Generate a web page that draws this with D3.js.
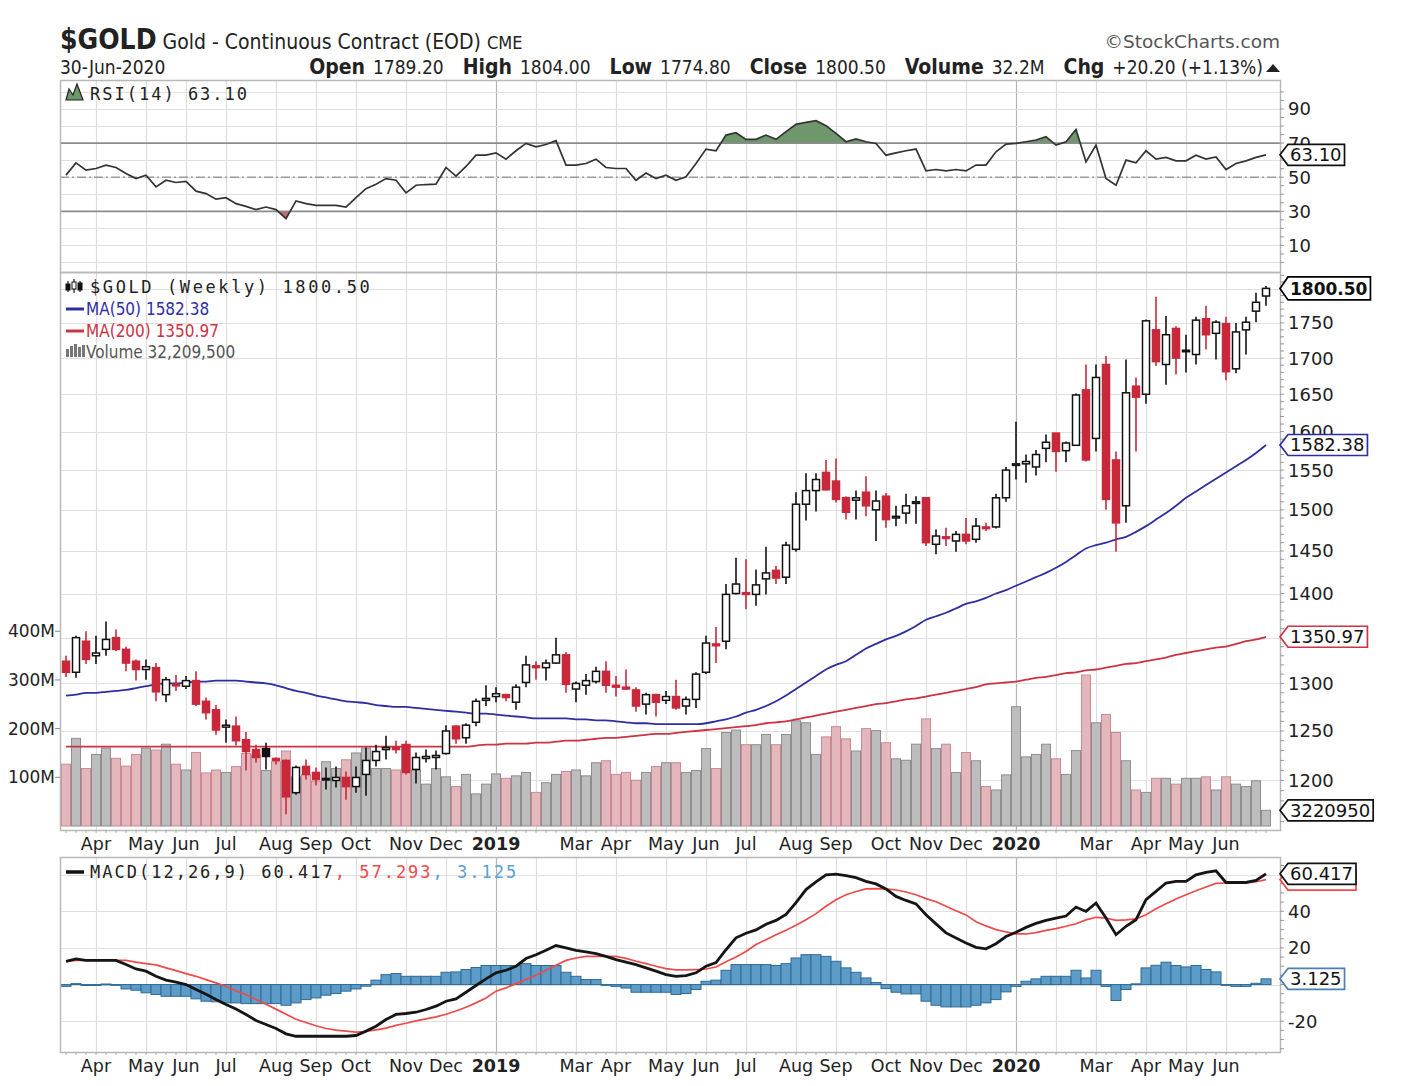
<!DOCTYPE html>
<html><head><meta charset="utf-8">
<script src="https://d3js.org/d3.v7.min.js"></script>
<style>
body{margin:0;background:#fff}
svg{display:block}
text{font-family:'DejaVu Sans',Verdana,sans-serif}
.nar{font-family:'Liberation Sans Narrow','Arial Narrow','DejaVu Sans Condensed',sans-serif}
.mono{font-family:'DejaVu Sans Mono',monospace;letter-spacing:2px}
.cond{font-family:'DejaVu Sans Condensed','DejaVu Sans',sans-serif}
</style></head><body>
<svg id="chart" width="1424" height="1086" xmlns="http://www.w3.org/2000/svg"></svg>
<script>
// ---------------- DATA (weekly, first week starting 2018-03-12) ----------------
const firstWeek = "2018-03-12";
const priorClose = 1330;
const open = [1324,1312,1346,1330,1337,1350,1337,1324,1315,1317, 1288,1299,1297,1303,1281,1272,1254,1255,1241,1231,
  1232,1222,1220,1188,1214,1208,1201,1200,1203,1194, 1206,1220,1231,1233,1236,1211,1222,1223,1227,1255,
  1243,1259,1282,1286,1288,1280,1301,1319,1317,1322, 1331,1294,1298,1302,1313,1298,1296,1293,1278,1288,
  1282,1286,1276,1283,1312,1343,1346,1400,1401,1399, 1417,1427,1419,1452,1507,1524,1547,1536,1515,1512,
  1522,1500,1517,1490,1496,1508,1515,1458,1467,1462, 1470,1464,1479,1479,1515,1556,1558,1554,1578,1598,
  1575,1582,1656,1591,1691,1563,1505,1661,1650,1740, 1691,1742,1709,1705,1756,1735,1749,1685,1740,1767,
  1789.2];
const high = [1330,1352,1357,1352,1368,1359,1340,1326,1326,1322, 1307,1309,1308,1313,1285,1277,1262,1265,1249,1236,
  1238,1223,1221,1215,1221,1213,1213,1214,1209,1214, 1233,1236,1245,1240,1240,1228,1231,1230,1256,1256,
  1258,1284,1298,1296,1289,1299,1330,1324,1326,1350, 1334,1302,1310,1318,1324,1308,1315,1296,1290,1289,
  1292,1304,1286,1312,1352,1362,1411,1442,1440,1428, 1455,1432,1461,1522,1546,1546,1563,1565,1517,1524,
  1542,1524,1521,1505,1520,1517,1516,1476,1478,1474, 1490,1490,1484,1520,1554,1613,1570,1576,1596,1598,
  1587,1651,1691,1691,1703,1574,1698,1673,1755,1788, 1760,1745,1733,1759,1775,1754,1759,1750,1759,1794,
  1804];
const low = [1307,1306,1321,1321,1330,1335,1313,1303,1304,1281, 1280,1292,1294,1276,1262,1246,1238,1235,1210,1218,
  1211,1216,1167,1186,1201,1195,1191,1193,1181,1188, 1185,1214,1221,1227,1206,1197,1218,1211,1226,1237,
  1237,1255,1276,1280,1281,1272,1296,1304,1303,1321, 1290,1280,1288,1300,1290,1286,1293,1270,1267,1265,
  1278,1272,1267,1274,1310,1322,1337,1399,1382,1386, 1399,1411,1411,1449,1487,1498,1524,1509,1488,1488,
  1492,1462,1478,1480,1483,1483,1456,1446,1456,1449, 1458,1460,1474,1477,1510,1538,1534,1543,1560,1548,
  1560,1581,1561,1574,1500,1449,1484,1574,1637,1689, 1663,1677,1680,1691,1712,1698,1669,1679,1705,1751,
  1774.8];
const close = [1312,1350,1326,1333,1348,1337,1322,1315,1318,1291, 1304,1298,1303,1278,1269,1251,1256,1240,1229,1223,
  1224,1220,1184,1213,1206,1201,1202,1203,1194,1203, 1220,1229,1233,1231,1208,1223,1224,1225,1250,1242,
  1256,1281,1284,1289,1285,1296,1320,1317,1322,1331, 1299,1300,1303,1313,1298,1296,1294,1276,1288,1280,
  1286,1274,1283,1310,1344,1341,1399,1411,1399,1410, 1424,1418,1457,1507,1524,1538,1525,1513,1497,1515,
  1505,1511,1488,1492,1505,1510,1460,1468,1465,1470, 1462,1480,1477,1515,1550,1558,1561,1570,1586,1574,
  1585,1649,1563,1673,1513,1484,1652,1646,1753,1695, 1733,1700,1711,1754,1733,1751,1681,1737,1751,1780,
  1800.5];
// volume in millions
const volume = [127,180,118,147,160,139,123,147,160,156, 168,127,115,151,109,115,110,122,149,146,
  114,132,154,101,105,92,132,118,136,150, 160,118,118,115,168,115,86,118,101,81,
  106,66,86,107,98,103,110,69,89,106, 112,115,103,130,134,106,110,94,110,122,
  130,130,110,114,159,118,192,197,167,167, 188,167,188,216,212,147,183,204,179,154,
  200,196,171,138,135,168,220,159,168,110, 151,134,81,74,105,245,142,147,168,138,
  106,155,310,212,229,192,134,74,69,98, 98,86,98,98,101,74,101,86,81,93,
  32.2];
const ma50 = [1287,1288,1290,1290,1291,1292,1293,1295,1297,1299, 1300,1300,1301,1302,1302,1303,1303,1303,1302,1301,
  1300,1298,1295,1292,1290,1287,1285,1283,1281,1280, 1279,1277,1276,1275,1275,1274,1273,1272,1271,1270,
  1269,1268,1268,1267,1266,1265,1264,1263,1263,1263, 1263,1262,1262,1261,1261,1260,1259,1258,1258,1257,
  1257,1257,1257,1257,1258,1260,1262,1265,1269,1272, 1276,1281,1287,1294,1301,1308,1315,1320,1324,1331,
  1338,1343,1348,1352,1357,1363,1370,1374,1378,1383, 1388,1391,1395,1400,1404,1409,1414,1419,1424,1430,
  1437,1445,1453,1457,1460,1464,1467,1473,1480,1488, 1496,1505,1515,1523,1531,1539,1547,1555,1563,1572,
  1582.38];
const ma200 = [1234,1234,1234,1234,1234,1234,1234,1234,1234,1234, 1234,1234,1234,1234,1234,1234,1234,1234,1234,1234,
  1234,1234,1234,1234,1234,1234,1234,1234,1234,1234, 1234,1234,1234,1234,1234,1234,1234,1234,1234,1234,
  1234,1235,1236,1236,1237,1237,1237,1238,1238,1239, 1240,1240,1241,1242,1243,1243,1244,1245,1246,1247,
  1247,1248,1249,1250,1251,1252,1253,1254,1255,1256, 1258,1259,1260,1262,1264,1266,1268,1270,1272,1274,
  1276,1278,1279,1281,1283,1284,1286,1288,1290,1292, 1294,1296,1299,1300,1301,1302,1304,1306,1307,1309,
  1311,1312,1314,1315,1317,1319,1321,1322,1324,1326, 1328,1331,1333,1335,1337,1339,1340,1343,1346,1348,
  1350.97];
const rsi = [51.2,58.4,54.1,55.1,57.1,55.7,52.2,49.2,51.2,44.3, 48.2,46.9,47.6,41.8,40.4,37.1,38.0,34.5,32.9,31.0,
  32.5,31.0,25.7,36.1,34.5,33.5,33.5,33.5,32.5,38.0, 43.3,45.9,49.2,48.2,40.8,45.3,45.7,45.9,55.7,50.6,
  56.3,62.9,62.9,64.3,60.6,65.5,69.8,67.8,69.2,71.4, 57.1,57.1,58.0,60.6,55.7,55.1,55.1,48.2,52.4,49.2,
  51.2,48.2,50.2,58.0,66.5,65.5,74.7,76.1,72.2,72.2, 74.7,72.2,76.7,81.0,82.2,83.1,80.2,75.7,70.8,72.4,
  70.8,69.8,62.9,64.3,65.5,66.5,53.7,54.5,53.7,54.5, 53.7,57.1,57.1,64.9,69.4,69.8,70.8,71.8,73.8,68.8,
  70.8,78.0,59.0,68.8,49.2,45.3,60.0,58.4,65.5,60.6, 61.6,59.6,59.6,62.9,60.6,61.9,54.5,58.0,59.6,61.6,
  63.10];
const macd = [12.7,14.0,13.2,13.2,13.2,13.2,10.9,8.5,7.3,4.5, 2.4,1.3,0,-2.7,-5.3,-8.2,-10.9,-13.3,-16.3,-19.6,
  -21.8,-24.0,-26.9,-28.2,-28.2,-28.2,-28.2,-28.2,-28.2,-27.8, -25.4,-22.7,-19.1,-16.3,-15.8,-15.1,-13.6,-11.8,-9.1,-7.8,
  -4.2,-0.5,3.1,6.4,7.8,10.0,14.2,16.3,18.7,21.3, 20.0,18.7,17.8,16.9,15.4,13.6,12.2,10.9,9.1,7.3,
  5.4,4.5,4.9,6.4,10.0,12.0,19.0,25.5,28.0,29.8, 32.9,35.0,38.3,44.7,51.8,56.0,59.9,60.3,59.4,58.3,
  56.3,54.9,52.2,48.1,45.9,44.0,38.1,33.1,28.2,25.4, 22.7,20.3,19.5,22.3,26.2,28.5,31.2,33.4,35.0,36.3,
  37.4,42.3,39.9,44.5,36.3,27.2,31.8,35.4,46.3,50.8, 55.4,56.3,56.3,59.9,61.2,62.1,55.7,55.7,55.7,56.8,
  60.417];
const signal = [12.7,13.2,13.2,13.2,13.2,13.2,13.2,12.2,11.4,10.7, 9.1,7.6,6.0,4.5,2.7,0.9,-1.1,-3.4,-5.4,-8.2,
  -10.7,-13.4,-16.2,-18.9,-20.7,-22.5,-24.0,-24.9,-25.4,-26.0, -25.6,-24.7,-23.8,-22.3,-21.1,-19.8,-18.7,-17.6,-16.2,-14.4,
  -12.4,-10.0,-7.3,-3.6,-1.8,0.5,2.7,5.1,7.8,10.5, 13.2,14.5,15.4,15.4,15.4,15.4,14.3,12.7,11.4,10.0,
  8.7,8.0,8.0,8.2,8.5,9.6,12.5,15.0,18.0,21.8, 24.5,27.2,29.6,32.3,35.4,38.7,42.7,46.3,49.0,50.8,
  52.2,52.3,52.2,51.6,50.5,49.0,46.9,45.2,42.7,40.3, 38.0,34.3,32.0,30.0,28.7,27.6,27.6,28.3,29.6,30.5,
  31.8,33.2,35.3,36.7,36.3,35.0,35.3,35.8,38.1,41.4, 44.1,46.7,49.0,51.2,53.2,55.2,55.4,55.4,55.6,56.1,
  57.293];
const hist = [-1,0.5,-0.5,-0.5,0.3,-0.3,-2.4,-3.1,-4.5,-5.4, -6.4,-6.4,-6.4,-7.8,-9.1,-9.4,-10.0,-10.0,-10.4,-10.4,
  -10.4,-10.4,-11.3,-10.0,-8.2,-7.3,-5.8,-4.9,-3.6,-2.4, -0.9,2.4,5.4,6.0,4.5,4.5,4.5,4.5,6.7,6.9,
  8.2,9.3,10.4,10.4,10.4,10.4,11.4,10.4,10.4,10.4, 6.7,4.5,2.7,2.7,0,-1.0,-1.9,-4.2,-4.2,-4.2,
  -4.2,-5.4,-4.9,-2.7,1.8,2.4,7.8,10.9,10.9,10.9, 10.9,10.4,11.4,14.5,16.3,16.3,15.4,12.7,9.1,6.7,
  3.6,1.1,-2.2,-4.2,-5.1,-5.1,-9.1,-11.3,-12.2,-12.2, -12.2,-11.3,-10.0,-8.2,-4.0,-1.0,1.8,3.1,4.5,4.5,
  4.5,7.8,3.6,7.8,-1.0,-8.7,-2.7,0.4,9.1,10.5, 12.2,10.4,9.6,10.4,8.2,6.9,0,-1.0,-1.0,0.7,
  3.125];
const monthAbbr = ["Jan","Feb","Mar","Apr","May","Jun","Jul","Aug","Sep","Oct","Nov","Dec"];
const rsiTicks = [10,30,50,70,90];
const priceTicks = [1200,1250,1300,1350,1400,1450,1500,1550,1600,1650,1700,1750,1800];
const priceLabels = [1200,1250,1300,1400,1450,1500,1550,1600,1650,1700,1750];
const volTicks = [100,200,300,400];
const macdTicks = [-20,0,20,40,60];
const macdLabels = [-20,20,40];

// ---------------- LAYOUT ----------------
const svg = d3.select("#chart");
const L = 60, R = 1280;
const rsiT = 80, rsiB = 272, prT = 272, prB = 830, mT = 857, mB = 1052;
const n = close.length;
const x = d3.scaleBand().domain(d3.range(n)).range([61, 1271]);
const bw = x.bandwidth();
const cx = i => x(i) + bw / 2;
const t0 = d3.timeParse("%Y-%m-%d")(firstWeek);
const dates = d3.range(n).map(i => d3.timeDay.offset(t0, 7 * i));
const monthTicks = d3.range(1, n).filter(i => dates[i].getMonth() !== dates[i - 1].getMonth());

const yR = d3.scaleLinear().domain([-5.6, 107]).range([rsiB, rsiT]);
const yP = d3.scaleLog().domain([1152, 1825]).range([prB, prT]);
const yV = d3.scaleLinear().domain([0, 1142]).range([826, 270]);
const yM = d3.scaleLinear().domain([-36.8, 69.6]).range([mB, mT]);

const prevClose = i => i === 0 ? priorClose : close[i - 1];
const isRed = i => close[i] < prevClose(i);
const RED = "#c8283a";

const defs = svg.append("defs");
function clip(id, y0, y1) {
  defs.append("clipPath").attr("id", id).append("rect").attr("x", L).attr("y", y0).attr("width", R - L).attr("height", y1 - y0);
}
clip("cR", rsiT, rsiB); clip("cP", prT, prB); clip("cM", mT, mB);
defs.append("clipPath").attr("id", "above70").append("rect").attr("x", L).attr("y", rsiT).attr("width", R - L).attr("height", yR(70) - rsiT);
defs.append("clipPath").attr("id", "below30").append("rect").attr("x", L).attr("y", yR(30)).attr("width", R - L).attr("height", rsiB - yR(30));

// ---------------- GRIDS ----------------
function vgrid(y0, y1) {
  svg.append("g").selectAll("line").data(monthTicks).join("line")
    .attr("x1", i => Math.round(cx(i)) + 0.5).attr("x2", i => Math.round(cx(i)) + 0.5)
    .attr("y1", y0).attr("y2", y1)
    .attr("stroke", i => dates[i].getMonth() === 0 ? "#b4b4b4" : "#dedede").attr("stroke-width", 1.2);
}
function hgrid(vals, sc) {
  svg.append("g").selectAll("line").data(vals).join("line")
    .attr("x1", L).attr("x2", R).attr("y1", d => Math.round(sc(d)) + 0.5).attr("y2", d => Math.round(sc(d)) + 0.5)
    .attr("stroke", "#e0e0e0").attr("stroke-width", 1.2);
}
vgrid(rsiT, rsiB); vgrid(prT, prB); vgrid(mT, mB);
hgrid(d3.range(0, 101, 10), yR);
hgrid(priceTicks, yP);
hgrid(macdTicks, yM);

// ---------------- RSI PANEL ----------------
const gR = svg.append("g").attr("clip-path", "url(#cR)");
gR.append("path").datum(rsi).attr("d", d3.area().x((d, i) => cx(i)).y0(yR(70)).y1(d => yR(d)))
  .attr("fill", "#6e986c").attr("clip-path", "url(#above70)");
gR.append("path").datum(rsi).attr("d", d3.area().x((d, i) => cx(i)).y0(yR(30)).y1(d => yR(d)))
  .attr("fill", "#c46a6a").attr("clip-path", "url(#below30)");
[70, 30].forEach(v => gR.append("line").attr("x1", L).attr("x2", R).attr("y1", yR(v)).attr("y2", yR(v)).attr("stroke", "#8c8c8c").attr("stroke-width", 1.8));
gR.append("line").attr("x1", L).attr("x2", R).attr("y1", yR(50)).attr("y2", yR(50))
  .attr("stroke", "#9a9a9a").attr("stroke-width", 1.5).attr("stroke-dasharray", "9,3,2,3");
gR.append("path").datum(rsi).attr("d", d3.line().x((d, i) => cx(i)).y(d => yR(d)))
  .attr("fill", "none").attr("stroke", "#333").attr("stroke-width", 1.7);

// ---------------- PRICE PANEL ----------------
const gP = svg.append("g").attr("clip-path", "url(#cP)");
gP.append("g").selectAll("rect").data(volume).join("rect")
  .attr("x", (d, i) => x(i) + 0.5).attr("width", bw - 1)
  .attr("y", d => yV(d)).attr("height", d => yV(0) - yV(d))
  .attr("fill", (d, i) => isRed(i) ? "#e4b7bd" : "#bdbdbd")
  .attr("stroke", (d, i) => isRed(i) ? "#c98a94" : "#8e8e8e").attr("stroke-width", 1);
const maLine = d3.line().x((d, i) => cx(i)).y(d => yP(d)).curve(d3.curveMonotoneX);
gP.append("path").datum(ma200).attr("d", maLine).attr("fill", "none").attr("stroke", "#cc3344").attr("stroke-width", 1.8);
gP.append("path").datum(ma50).attr("d", maLine).attr("fill", "none").attr("stroke", "#2e2ea3").attr("stroke-width", 1.8);
const candles = gP.append("g").selectAll("g").data(d3.range(n)).join("g");
candles.append("line")
  .attr("x1", i => cx(i)).attr("x2", i => cx(i))
  .attr("y1", i => yP(high[i])).attr("y2", i => yP(low[i]))
  .attr("stroke", i => isRed(i) ? RED : "#111").attr("stroke-width", 1.6);
candles.append("rect")
  .attr("x", i => cx(i) - 3.5).attr("width", 7)
  .attr("y", i => yP(Math.max(open[i], close[i])))
  .attr("height", i => Math.max(1.5, Math.abs(yP(open[i]) - yP(close[i]))))
  .attr("fill", i => close[i] >= open[i] ? "#fff" : (isRed(i) ? RED : "#111"))
  .attr("stroke", i => isRed(i) ? RED : "#111").attr("stroke-width", 1.5);

// ---------------- MACD PANEL ----------------
const gM = svg.append("g").attr("clip-path", "url(#cM)");
gM.append("g").selectAll("rect").data(hist).join("rect")
  .attr("x", (d, i) => x(i)).attr("width", bw)
  .attr("y", d => Math.min(yM(d), yM(0))).attr("height", d => Math.max(0.8, Math.abs(yM(d) - yM(0))))
  .attr("fill", "#5d9cc9").attr("stroke", "#2f6a94").attr("stroke-width", 1);
gM.append("path").datum(signal).attr("d", d3.line().x((d, i) => cx(i)).y(d => yM(d)))
  .attr("fill", "none").attr("stroke", "#ef4a4a").attr("stroke-width", 1.7);
gM.append("path").datum(macd).attr("d", d3.line().x((d, i) => cx(i)).y(d => yM(d)))
  .attr("fill", "none").attr("stroke", "#151515").attr("stroke-width", 2.8);

// ---------------- BORDERS & TICKS ----------------
[[rsiT, rsiB], [prT, prB], [mT, mB]].forEach(([a, b]) =>
  svg.append("rect").attr("x", L + 0.5).attr("y", a + 0.5).attr("width", R - L).attr("height", b - a)
    .attr("fill", "none").attr("stroke", "#b8b8b8").attr("stroke-width", 1.5));
function minor(vals, sc) {
  svg.append("g").selectAll("line").data(vals).join("line")
    .attr("x1", R).attr("x2", R + 4).attr("y1", d => sc(d)).attr("y2", d => sc(d)).attr("stroke", "#999");
}
minor(d3.range(0, 101, 5), yR);
minor(d3.range(1160, 1821, 10), yP);
minor(d3.range(-35, 66, 5), yM);
[prB, mB].forEach(yb => svg.append("g").selectAll("line").data(d3.range(n)).join("line")
  .attr("x1", i => cx(i)).attr("x2", i => cx(i)).attr("y1", yb).attr("y2", yb + 3).attr("stroke", "#aaa"));

function rightLabels(vals, sc) {
  svg.append("g").selectAll("text").data(vals).join("text")
    .attr("x", 1288).attr("y", d => sc(d)).attr("dy", "0.36em").attr("font-size", 18).attr("fill", "#222")
    .text(d => d);
}
rightLabels(rsiTicks, yR);
rightLabels(priceLabels, yP);
rightLabels(macdLabels, yM);
svg.append("g").selectAll("text").data(volTicks).join("text")
  .attr("x", 55).attr("y", d => yV(d)).attr("dy", "0.36em").attr("text-anchor", "end")
  .attr("font-size", 17).attr("fill", "#222").text(d => d + "M");
svg.append("g").selectAll("line").data(volTicks).join("line")
  .attr("x1", 55).attr("x2", 60).attr("y1", d => yV(d)).attr("y2", d => yV(d)).attr("stroke", "#888");

function monthLabels(yb) {
  svg.append("g").selectAll("text").data(monthTicks.filter(i => dates[i].getMonth() !== 1)).join("text")
    .attr("x", i => cx(i)).attr("y", yb).attr("text-anchor", "middle").attr("font-size", 17.5)
    .attr("font-weight", i => dates[i].getMonth() === 0 ? "bold" : "normal").attr("fill", "#222")
    .text(i => dates[i].getMonth() === 0 ? dates[i].getFullYear() : monthAbbr[dates[i].getMonth()]);
}
monthLabels(850); monthLabels(1072);

// value tags
function tagShape(g, y, w, h, stroke) {
  g.insert("path", "text").attr("d", `M1280,${y}L1288,${y - h}H${1293 + w}V${y + h}H1288Z`)
    .attr("fill", "#fff").attr("stroke", stroke).attr("stroke-width", 1.7);
}
function tag(y, label, o = {}) {
  const g = svg.append("g");
  const t = g.append("text").attr("x", 1290).attr("y", y).attr("dy", "0.36em")
    .attr("font-size", o.size || 18).attr("font-weight", o.bold ? "bold" : "normal")
    .attr("fill", o.color || "#111").text(label);
  const w = t.node().getComputedTextLength();
  tagShape(g, y, w, o.h || 10.5, o.stroke || "#111");
  return w;
}
tag(yR(rsi[n - 1]), rsi[n - 1].toFixed(2));
tag(yP(close[n - 1]), close[n - 1].toFixed(2), { bold: true, size: 17, h: 11.5, stroke: "#000" });
tag(yP(ma50[n - 1]), ma50[n - 1].toFixed(2), { stroke: "#2e2ea3" });
tag(yP(ma200[n - 1]), ma200[n - 1].toFixed(2), { stroke: "#cc3344" });
tag(yV(volume[n - 1]), "3220950", { stroke: "#111" });
const sigG = svg.append("g");
const macdTagG = svg.append("g");
const mw = (() => {
  const t = macdTagG.append("text").attr("x", 1290).attr("y", yM(macd[n - 1])).attr("dy", "0.36em")
    .attr("font-size", 18).attr("fill", "#111").text(macd[n - 1].toFixed(3));
  return t.node().getComputedTextLength();
})();
tagShape(sigG, yM(signal[n - 1]), mw, 10.5, "#ef4a4a");
tagShape(macdTagG, yM(macd[n - 1]), mw, 10.5, "#111");
tag(yM(hist[n - 1]), hist[n - 1].toFixed(3), { stroke: "#4a80b5" });

// ---------------- LEGENDS ----------------
svg.append("path").attr("d", "M66,100L69,89L73,95L77,84L83,100Z").attr("fill", "#6e986c").attr("stroke", "#222").attr("stroke-width", 1.2);
svg.append("text").attr("class", "mono").attr("x", 90).attr("y", 100).attr("font-size", 17).attr("fill", "#222").text("RSI(14) " + rsi[n - 1].toFixed(2));

const ic = svg.append("g");
[[68, 281, 292, 284, 290, "#111"], [74, 279, 293, 282, 289, "#fff"], [80, 281, 292, 283, 290, "#111"]].forEach(([xx, a, b, c, d, f]) => {
  ic.append("line").attr("x1", xx).attr("x2", xx).attr("y1", a).attr("y2", b).attr("stroke", "#111").attr("stroke-width", 1.2);
  ic.append("rect").attr("x", xx - 2).attr("y", c).attr("width", 4).attr("height", d - c).attr("fill", f).attr("stroke", "#111").attr("stroke-width", 1);
});
svg.append("text").attr("class", "mono").attr("x", 90).attr("y", 293).attr("font-size", 17).attr("fill", "#222")
  .style("letter-spacing", "2.6px").text("$GOLD (Weekly) " + close[n - 1].toFixed(2));
svg.append("line").attr("x1", 66).attr("x2", 84).attr("y1", 309).attr("y2", 309).attr("stroke", "#2e2ea3").attr("stroke-width", 3);
svg.append("text").attr("class", "cond").attr("x", 86).attr("y", 315).attr("font-size", 17).attr("fill", "#2e2ea3").text("MA(50) " + ma50[n - 1].toFixed(2));
svg.append("line").attr("x1", 66).attr("x2", 84).attr("y1", 331).attr("y2", 331).attr("stroke", "#cc3344").attr("stroke-width", 3);
svg.append("text").attr("class", "cond").attr("x", 86).attr("y", 337).attr("font-size", 17).attr("fill", "#cc3344").text("MA(200) " + ma200[n - 1].toFixed(2));
[[66, 349], [70, 346], [74, 344], [78, 347], [82, 345]].forEach(([xx, yy]) =>
  svg.append("rect").attr("x", xx).attr("y", yy).attr("width", 3).attr("height", 357 - yy).attr("fill", "#777"));
svg.append("text").attr("class", "cond").attr("x", 86).attr("y", 358).attr("font-size", 17).attr("fill", "#555").text("Volume 32,209,500");

svg.append("line").attr("x1", 66).attr("x2", 84).attr("y1", 872).attr("y2", 872).attr("stroke", "#111").attr("stroke-width", 3.5);
const mt = svg.append("text").attr("class", "mono").attr("x", 90).attr("y", 878).attr("font-size", 17).attr("fill", "#222");
mt.append("tspan").text("MACD(12,26,9) " + macd[n - 1].toFixed(3));
mt.append("tspan").attr("fill", "#ef4a4a").text(", " + signal[n - 1].toFixed(3));
mt.append("tspan").attr("fill", "#5aa0d2").text(", " + hist[n - 1].toFixed(3));

// ---------------- HEADER ----------------
const h1 = svg.append("text").attr("class", "nar").attr("x", 60).attr("y", 49).attr("fill", "#222");
h1.append("tspan").attr("font-size", 28).attr("font-weight", "bold").text("$GOLD");
h1.append("tspan").attr("font-size", 21).attr("dx", 6).text("Gold - Continuous Contract (EOD)");
h1.append("tspan").attr("font-size", 18).attr("dx", 6).attr("style", "font-family:'DejaVu Sans Condensed',sans-serif").text("CME");
svg.append("text").attr("class", "nar").attr("x", 60).attr("y", 74).attr("font-size", 19).attr("fill", "#222").text("30-Jun-2020");
const h2 = svg.append("text").attr("class", "nar").attr("x", 1263).attr("y", 74).attr("text-anchor", "end").attr("fill", "#222");
[["Open", "1789.20"], ["High", "1804.00"], ["Low", "1774.80"], ["Close", "1800.50"], ["Volume", "32.2M"], ["Chg", "+20.20 (+1.13%)"]].forEach(([k, v], j) => {
  h2.append("tspan").attr("font-size", 21).attr("font-weight", "bold").attr("dx", j ? 19 : 0).text(k);
  h2.append("tspan").attr("font-size", 19).attr("dx", 8).text(v);
});
svg.append("path").attr("d", "M1266,72L1273,64L1280,72Z").attr("fill", "#222");
svg.append("text").attr("x", 1280).attr("y", 48).attr("text-anchor", "end").attr("font-size", 18.5).attr("fill", "#555").text("©StockCharts.com");
</script>
</body></html>
